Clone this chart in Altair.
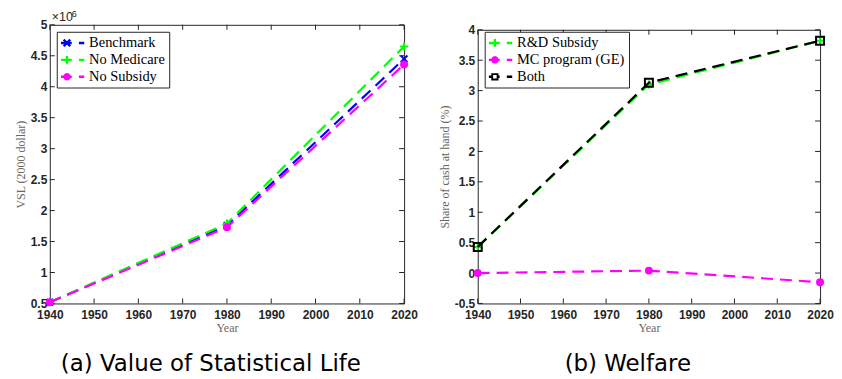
import math
import altair as alt
import pandas as pd

# ---------------- data ----------------
years = [1940, 1980, 2020]
vsl_benchmark = [520000, 1760000, 4450000]
vsl_no_medicare = [520000, 1790000, 4650000]
vsl_no_subsidy = [520000, 1730000, 4360000]

welfare_rd_subsidy = [0.43, 3.10, 3.82]
welfare_mc_program = [0.00, 0.04, -0.15]
welfare_both = [0.43, 3.13, 3.82]

series_a = ["Benchmark", "No Medicare", "No Subsidy"]
series_b = ["R&D Subsidy", "MC program (GE)", "Both"]

x_ticks = [1940, 1950, 1960, 1970, 1980, 1990, 2000, 2010, 2020]
y_ticks_a = [500000, 1000000, 1500000, 2000000, 2500000, 3000000,
             3500000, 4000000, 4500000, 5000000]
y_ticks_b = [-0.5, 0, 0.5, 1, 1.5, 2, 2.5, 3, 3.5, 4]

caption_a = "(a) Value of Statistical Life"
caption_b = "(b) Welfare"
exponent_base = "×10"
exponent_power = "6"

# ---------------- styling helpers ----------------
DARK = "#262626"
BLUE, GREEN, MAGENTA, BLACK = "#0000ff", "#00ff00", "#ff00ff", "#000000"


def f(v):
    return ("%.3f" % v).rstrip("0").rstrip(".")


def poly(pts, cw=True):
    area = sum(pts[i][0] * pts[(i + 1) % len(pts)][1] - pts[(i + 1) % len(pts)][0] * pts[i][1]
               for i in range(len(pts)))
    if (area > 0) != cw:
        pts = pts[::-1]
    return "M" + "L".join(f"{f(x)},{f(y)}" for x, y in pts) + "Z"


def rect(x0, x1, y0, y1, cw=True):
    return poly([(x0, y0), (x1, y0), (x1, y1), (x0, y1)], cw)


def bar(p1, p2, t):
    dx, dy = p2[0] - p1[0], p2[1] - p1[1]
    L = math.hypot(dx, dy)
    nx, ny = -dy / L * t, dx / L * t
    return poly([(p1[0] + nx, p1[1] + ny), (p2[0] + nx, p2[1] + ny),
                 (p2[0] - nx, p2[1] - ny), (p1[0] - nx, p1[1] - ny)])


def circ(cx, r, n=20):
    return poly([(cx + r * math.cos(2 * math.pi * k / n), r * math.sin(2 * math.pi * k / n))
                 for k in range(n)])


T = 0.2
CX = -1.0
LINE = rect(-2.0, -0.2, -T, T)
DASH = rect(1.0, 1.9, -T, T)

leg_x = LINE + DASH + bar((CX - 0.55, -0.55), (CX + 0.55, 0.55), T) + bar((CX - 0.55, 0.55), (CX + 0.55, -0.55), T)
leg_plus = LINE + DASH + rect(CX - 0.65, CX + 0.65, -T, T) + rect(CX - T, CX + T, -0.65, 0.65)
leg_circle = LINE + DASH + circ(CX, 0.62)
leg_square = (rect(-2.0, CX - 0.6, -T, T) + rect(CX + 0.6, -0.2, -T, T) + DASH
              + rect(CX - 0.6, CX + 0.6, -0.6, 0.6) + rect(CX - 0.3, CX + 0.3, -0.3, 0.3, cw=False))

X_PATH = "M-1,-1L1,1M-1,1L1,-1"
PLUS_PATH = "M-1,0H1M0,-1V1"

m_x = dict(shape=X_PATH, filled=False, size=45, strokeWidth=2)
m_plus = dict(shape=PLUS_PATH, filled=False, size=64, strokeWidth=2)
m_circle = dict(shape="circle", filled=True, size=64, strokeWidth=0)
m_square = dict(shape="square", filled=False, size=64, strokeWidth=2)


def long_df(series, values):
    rows = []
    for s, vals in zip(series, values):
        for yr, v in zip(years, vals):
            rows.append({"year": yr, "value": v, "series": s})
    return pd.DataFrame(rows)


def panel(df, series, colors, markers, legend_paths, y_domain, y_ticks, y_title,
          label_expr, w, h, extra=None):
    xs = alt.Scale(domain=[1940, 2020], nice=False, zero=False, padding=0)
    ys = alt.Scale(domain=y_domain, nice=False, zero=False, padding=0)
    cs = alt.Scale(domain=series, range=colors)
    X = alt.X("year:Q", scale=xs, title="Year",
              axis=alt.Axis(values=x_ticks, format="d", labelPadding=6, titlePadding=2,
                            labelFlush=False, labelOverlap=False))
    Y = alt.Y("value:Q", scale=ys, title=y_title,
              axis=alt.Axis(values=y_ticks, labelExpr=label_expr, labelPadding=3, titlePadding=3,
                            labelOverlap=False, labelFlush=False))

    layers = []
    # inward ticks (positions from the tick lists, through the scales)
    tk = dict(color=DARK, thickness=1, size=5, opacity=1)
    xb = pd.DataFrame({"year": x_ticks, "value": [y_domain[0]] * len(x_ticks)})
    xtp = pd.DataFrame({"year": x_ticks, "value": [y_domain[1]] * len(x_ticks)})
    yl = pd.DataFrame({"year": [1940] * len(y_ticks), "value": y_ticks})
    yr = pd.DataFrame({"year": [2020] * len(y_ticks), "value": y_ticks})
    layers.append(alt.Chart(xb).mark_tick(orient="vertical", yOffset=-2.5, **tk).encode(x=X, y=Y))
    layers.append(alt.Chart(xtp).mark_tick(orient="vertical", yOffset=2.5, **tk).encode(x=X, y=Y))
    layers.append(alt.Chart(yl).mark_tick(orient="horizontal", xOffset=2.5, **tk).encode(x=X, y=Y))
    layers.append(alt.Chart(yr).mark_tick(orient="horizontal", xOffset=-2.5, **tk).encode(x=X, y=Y))

    for s, col, mk in zip(series, colors, markers):
        sub = alt.Chart(df).transform_filter(alt.datum.series == s)
        layers.append(sub.mark_line(strokeDash=[12, 7], strokeWidth=2.2, color=col).encode(x=X, y=Y))
        layers.append(sub.mark_point(opacity=1, color=col, **mk).encode(x=X, y=Y))

    leg = alt.Legend(title=None, orient="none", legendX=7, legendY=7, padding=4,
                     strokeColor=DARK, fillColor="white",
                     labelFont="Liberation Serif", labelFontSize=14.5, labelColor="black",
                     symbolSize=144, symbolStrokeWidth=0, symbolOpacity=1,
                     symbolOffset=5, labelOffset=9, rowPadding=2)
    layers.append(
        alt.Chart(df)
        .mark_point(filled=True, size=144, strokeWidth=0, opacity=0)
        .encode(x=X, y=Y,
                color=alt.Color("series:N", scale=cs, legend=leg),
                shape=alt.Shape("series:N", scale=alt.Scale(domain=series, range=legend_paths),
                                legend=leg))
    )
    if extra:
        layers.extend(extra(X, Y))
    return alt.layer(*layers).properties(width=w, height=h)


def exponent(X, Y):
    t = pd.DataFrame({"year": [1940], "value": [5000000],
                      "t": [exponent_base], "p": [exponent_power]})
    base = alt.Chart(t).mark_text(align="left", baseline="bottom", dx=2, dy=-1,
                                  font="Liberation Sans", fontSize=12.5, color=DARK) \
        .encode(x=X, y=Y, text="t:N")
    power = alt.Chart(t).mark_text(align="left", baseline="bottom", dx=22, dy=-6,
                                   font="Liberation Sans", fontSize=9, color=DARK) \
        .encode(x=X, y=Y, text="p:N")
    return [base, power]


df_a = long_df(series_a, [vsl_benchmark, vsl_no_medicare, vsl_no_subsidy])
df_b = long_df(series_b, [welfare_rd_subsidy, welfare_mc_program, welfare_both])

pa = panel(df_a, series_a, [BLUE, GREEN, MAGENTA], [m_x, m_plus, m_circle],
           [leg_x, leg_plus, leg_circle], [500000, 5000000], y_ticks_a,
           "VSL (2000 dollar)", "datum.value / 1000000", 356, 280, extra=exponent)
pb = panel(df_b, series_b, [GREEN, MAGENTA, BLACK], [m_plus, m_circle, m_square],
           [leg_plus, leg_circle, leg_square], [-0.5, 4], y_ticks_b,
           "Share of cash at hand (%)", "'' + datum.value", 344, 275)

# thin invisible spacer that lowers the right panel a few pixels
spacer = (alt.Chart(pd.DataFrame({"s": [0]})).mark_point(opacity=0)
          .properties(width=344, height=1, view=alt.ViewBackground(stroke="transparent")))

cap = dict(orient="bottom", anchor="middle", font="DejaVu Sans", fontSize=23,
           fontWeight="normal", color="black", offset=19)
va = alt.vconcat(pa, title=alt.TitleParams(caption_a, dx=-5, **cap))
vb = alt.vconcat(spacer, pb, spacing=-6, title=alt.TitleParams(caption_b, dx=-8, **cap))

chart = (
    alt.hconcat(va, vb, spacing=19)
    .resolve_scale(color="independent", shape="independent")
    .resolve_legend(color="independent", shape="independent")
    .configure_view(stroke=DARK, strokeWidth=1)
    .configure_axis(domain=False, ticks=False, grid=False, labelOverlap=False, labelFlush=False,
                    labelFont="Liberation Sans", labelFontWeight="bold", labelFontSize=12,
                    labelColor=DARK, titleFont="Liberation Serif", titleFontSize=12,
                    titleFontWeight="normal", titleColor="#666666")
    .properties(padding={"left": 5, "top": 0, "right": 0, "bottom": 0})
)

chart.save("out.html", embed_options={"renderer": "svg", "actions": False})
